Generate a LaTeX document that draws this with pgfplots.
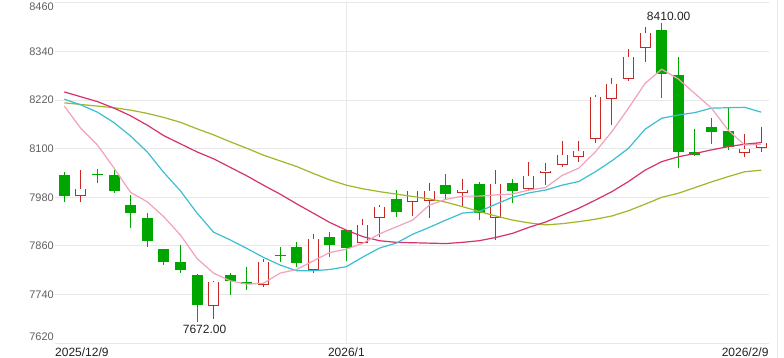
\documentclass[border=0pt]{standalone}
\usepackage{fontspec}
\setmainfont{Liberation Sans}
\usepackage{pgfplots}
\usepackage{pgfplotstable}
\pgfplotsset{compat=1.18}

\definecolor{upred}{RGB}{200,40,36}
\definecolor{dngreen}{RGB}{0,166,0}
\definecolor{maA}{RGB}{242,162,186}
\definecolor{maB}{RGB}{60,190,210}
\definecolor{maC}{RGB}{214,50,110}
\definecolor{maD}{RGB}{162,182,42}
\definecolor{gridc}{RGB}{232,232,232}
\definecolor{labgray}{RGB}{96,96,96}
\definecolor{labdark}{RGB}{34,34,34}

% rising candles: index, open, high, low, close
\pgfplotstableread{
i o h l c
1 7984 8047 7968 8000
9 7714 7774 7679 7770
12 7766 7827 7760 7821
15 7802 7890 7794 7877
18 7869 7927 7869 7911
19 7931 7960 7881 7955
21 7970 7995 7934 7995
22 7972 8016 7928 7995
24 7991 8026 7957 7997
26 7931 8047 7875 8014
28 8001 8066 7996 8032
29 8042 8065 8010 8044
30 8062 8118 8056 8084
31 8081 8118 8067 8094
32 8126 8233 8115 8227
33 8224 8274 8159 8259
34 8274 8345 8268 8325
35 8350 8399 8314 8385
41 8091 8136 8079 8100
42 8103 8154 8093 8113
}\uptab

% falling candles: index, open, high, low, close
\pgfplotstableread{
i o h l c
0 8035 8042 7968 7983
2 8038 8050 8015 8035
3 8035 8047 7990 7996
4 7961 7986 7904 7941
5 7928 7941 7858 7873
6 7853 7853 7813 7821
7 7820 7862 7794 7802
8 7788 7791 7672 7714
10 7788 7794 7740 7774
11 7772 7807 7751 7766
13 7839 7857 7821 7836
14 7857 7869 7809 7819
16 7881 7895 7832 7862
17 7899 7900 7824 7856
20 7975 7998 7931 7945
23 8010 8038 7976 7987
25 8013 8017 7924 7942
27 8015 8024 7965 7996
36 8393 8410 8226 8283
37 8282 8327 8053 8092
38 8092 8149 8083 8085
39 8154 8175 8112 8142
40 8143 8200 8097 8105
}\dntab

% moving averages
\pgfplotstableread{
i a b c d
0 8205 8222 8240 8213
1 8150 8208 8228 8209
2 8109 8190 8216 8205
3 8052 8164 8200 8201
4 7992 8131 8181 8195
5 7969 8092 8158 8187
6 7932 8041 8132 8177
7 7887 7996 8112 8165
8 7829 7941 8092 8149
9 7793 7894 8075 8134
10 7774 7875 8054 8117
11 7766 7854 8033 8101
12 7768 7832 8010 8084
13 7793 7813 7988 8070
14 7802 7799 7964 8056
15 7823 7799 7941 8039
16 7844 7802 7918 8023
17 7852 7809 7899 8010
18 7867 7833 7883 8001
19 7890 7855 7873 7994
20 7907 7867 7869 7988
21 7924 7889 7868 7982
22 7961 7906 7867 7976
23 7975 7924 7866 7968
24 7983 7941 7869 7957
25 7983 7945 7873 7945
26 7986 7963 7881 7934
27 7988 7980 7891 7924
28 7998 7991 7906 7917
29 8004 7998 7919 7912
30 8034 8010 7936 7915
31 8052 8019 7953 7920
32 8092 8043 7973 7926
33 8142 8070 7994 7934
34 8200 8101 8019 7947
35 8261 8148 8047 7963
36 8296 8175 8068 7980
37 8272 8183 8080 7990
38 8236 8189 8088 8004
39 8200 8200 8097 8018
40 8146 8201 8105 8031
41 8109 8202 8111 8043
42 8111 8190 8115 8047
}\matab

\begin{document}
\begin{tikzpicture}
\path[use as bounding box, fill=white] (0,0) rectangle (784bp,358bp);
\draw[gridc, line width=1bp] (777.3bp,0) -- (777.3bp,358bp);
\begin{axis}[
  at={(55bp,14.7bp)}, anchor=south west, scale only axis,
  width=713.7bp, height=340.6bp,
  xmin=-0.56, xmax=42.45, ymin=7620, ymax=8460,
  clip=false,
  axis line style={draw=none}, tick style={draw=none},
  ymajorgrids, xmajorgrids,
  grid style={gridc, line width=1bp},
  ytick={7620,7740,7860,7980,8100,8220,8340,8460},
  yticklabels={\raisebox{0pt}[7.9bp][12.6bp]{7620},7740,7860,7980,8100,8220,8340,\raisebox{0pt}[16.5bp][0pt]{8460}},
  yticklabel style={anchor=east, inner sep=0pt, xshift=-1bp, text=labgray, font=\fontsize{11bp}{13bp}\selectfont},
  xtick={17}, xticklabels={2026/1},
  xticklabel style={anchor=north, inner sep=0pt, yshift=-3.9bp, text=labdark, font=\fontsize{12bp}{14bp}\selectfont},
  /pgf/number format/assume math mode=true,
]
% falling wicks
\addplot[forget plot, draw=none, mark=none,
  error bars/.cd, y dir=minus, y explicit, error mark=none,
  error bar style={draw=dngreen, solid, line width=1bp}]
  table[x=i, y=h, y error minus expr=\thisrow{h}-\thisrow{l}] {\dntab};
% falling bodies
\addplot[forget plot, draw=none, mark=none,
  error bars/.cd, y dir=minus, y explicit, error mark=none,
  error bar style={draw=dngreen, solid, line width=11bp}]
  table[x=i, y=o, y error minus expr=\thisrow{o}-\thisrow{c}] {\dntab};
% rising wicks
\addplot[forget plot, draw=none, mark=none,
  error bars/.cd, y dir=minus, y explicit, error mark=none,
  error bar style={draw=upred, solid, line width=1bp}]
  table[x=i, y=h, y error minus expr=\thisrow{h}-\thisrow{l}] {\uptab};
% rising bodies: outline
\addplot[forget plot, draw=none, mark=none,
  error bars/.cd, y dir=minus, y explicit, error mark=none,
  error bar style={draw=upred, solid, line width=11bp}]
  table[x=i, y=c, y error minus expr=\thisrow{c}-\thisrow{o}] {\uptab};
\addplot[forget plot, draw=none, mark=none,
  error bars/.cd, y dir=minus, y explicit, error mark=-,
  error mark options={rotate=90, draw=upred, solid, line width=1bp, mark size=5.5bp},
  error bar style={draw=white, solid, line width=9bp}]
  table[x=i, y=c, y error minus expr=\thisrow{c}-\thisrow{o}] {\uptab};
% moving averages
\addplot[maD, line width=1.2bp, mark=none] table[x=i, y=d] {\matab};
\addplot[maC, line width=1.2bp, mark=none] table[x=i, y=c] {\matab};
\addplot[maB, line width=1.2bp, mark=none] table[x=i, y=b] {\matab};
\addplot[maA, line width=1.2bp, mark=none] table[x=i, y=a] {\matab};
% annotations
\node[anchor=north, inner sep=0pt, xshift=7.5bp, yshift=-3bp, text=labdark, font=\fontsize{12bp}{14bp}\selectfont] at (axis cs:8,7672) {7672.00};
\node[anchor=south, inner sep=0pt, xshift=7bp, yshift=2.2bp, text=labdark, font=\fontsize{12bp}{14bp}\selectfont] at (axis cs:36,8410) {8410.00};
\node[anchor=north west, inner sep=0pt, yshift=-3.9bp, text=labdark, font=\fontsize{12bp}{14bp}\selectfont] at (rel axis cs:0,0) {2025/12/9};
\node[anchor=north east, inner sep=0pt, yshift=-3.9bp, text=labdark, font=\fontsize{12bp}{14bp}\selectfont] at (rel axis cs:1,0) {2026/2/9};
\end{axis}
\end{tikzpicture}
\end{document}
